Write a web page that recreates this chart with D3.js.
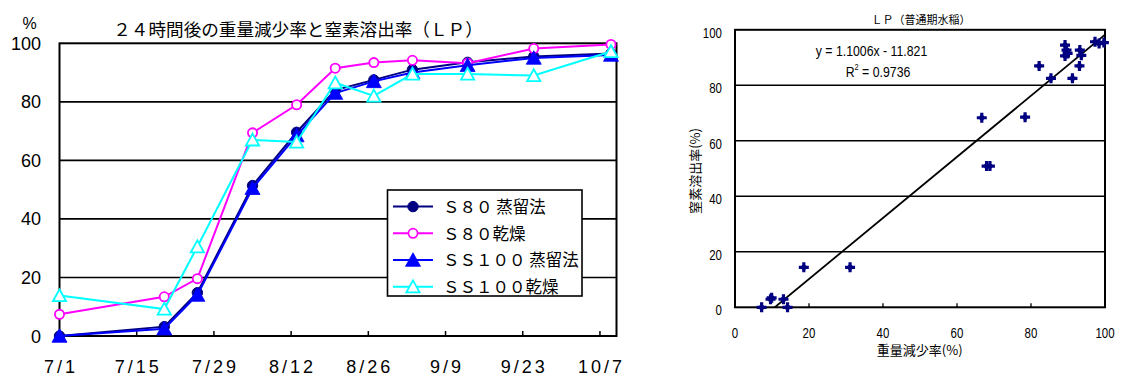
<!DOCTYPE html>
<html><head><meta charset="utf-8">
<script src="https://cdn.jsdelivr.net/npm/d3@7"></script>
<style>body{margin:0;background:#fff} svg{display:block}</style>
</head><body>
<svg id="c" width="1121" height="376"></svg>
<script>
// ---------- data: left chart ----------
const sampleDates = ["2001-07-01","2001-07-20","2001-07-26","2001-08-05","2001-08-13","2001-08-20","2001-08-27","2001-09-03","2001-09-13","2001-09-25","2001-10-09"];
const s80Distill  = [0, 3.2, 14.8, 51.4, 69.6, 84.0, 87.5, 91.0, 93.5, 95.5, 96.5];
const s80Dry      = [7.4, 13.4, 19.6, 69.4, 79.0, 91.5, 93.4, 94.2, 93.2, 98.2, 99.6];
const ss100Distill= [0, 2.5, 14.0, 50.5, 68.5, 83.0, 87.0, 90.0, 92.5, 95.0, 96.0];
const ss100Dry    = [13.8, 9.2, 30.5, 67.0, 66.3, 86.5, 82.0, 89.5, 89.5, 89.0, 97.2];
const seriesNames = ["Ｓ８０ 蒸留法","Ｓ８０乾燥","ＳＳ１００ 蒸留法","ＳＳ１００乾燥"];
const xTickDates  = ["2001-07-01","2001-07-15","2001-07-29","2001-08-12","2001-08-26","2001-09-09","2001-09-23","2001-10-07"];
const xTickLabels = ["7/1","7/15","7/29","8/12","8/26","9/9","9/23","10/7"];
const leftYTicks  = [0,20,40,60,80,100];
const leftTitle   = "２４時間後の重量減少率と窒素溶出率（ＬＰ）";

// ---------- data: right chart ----------
const weightLoss = [7.2, 9.6, 9.9, 13.1, 14.2, 18.6, 31.1, 66.7, 68.0, 68.9, 78.4, 82.2, 85.4, 89.2, 89.6, 89.2, 89.9, 91.2, 93.2, 93.6, 93.1, 97.3, 98.4, 99.7];
const nRelease   = [0, 2.9, 3.4, 2.9, 0, 14.4, 14.4, 68.3, 50.9, 50.9, 68.5, 87.0, 82.5, 94.5, 92.7, 90.6, 91.5, 82.5, 92.7, 90.8, 87.0, 95.7, 95.1, 95.4];
const rightTicks = [0,20,40,60,80,100];
const trendSlope = 1.1006, trendIntercept = -11.821;
const rightTitle = "ＬＰ（普通期水稲）";

const svg = d3.select("#c");
const parse = d3.timeParse("%Y-%m-%d");
const latin = "'Liberation Sans', Arial, sans-serif";
const cjk = "'Noto Sans CJK JP', sans-serif";

// ================= LEFT CHART =================
const L = {x0: 59.5, x1: 616.5, y0: 336, y1: 43.3};
const xL = d3.scaleTime().domain([parse("2001-07-01"), parse("2001-10-10")]).range([L.x0, L.x1]);
const yL = d3.scaleLinear().domain([0,100]).range([L.y0, L.y1]);
const gL = svg.append("g");

// gridlines
gL.selectAll(".gl").data(leftYTicks.filter(d => d>0 && d<100)).join("line")
  .attr("x1", L.x0).attr("x2", L.x1).attr("y1", d=>yL(d)).attr("y2", d=>yL(d))
  .attr("stroke","#000").attr("stroke-width",1.6);
gL.append("rect").attr("x",L.x0).attr("y",L.y1).attr("width",L.x1-L.x0).attr("height",L.y0-L.y1)
  .attr("fill","none").attr("stroke","#000").attr("stroke-width",2);

// x ticks
gL.selectAll(".xt").data(xTickDates).join("line")
  .attr("x1", d=>xL(parse(d))).attr("x2", d=>xL(parse(d)))
  .attr("y1", L.y0).attr("y2", L.y0-5).attr("stroke","#000").attr("stroke-width",1.5);
gL.selectAll(".xl").data(xTickDates).join("text")
  .attr("x", d=>xL(parse(d))+1.5).attr("y", 372.5).attr("text-anchor","middle")
  .attr("font-family", latin).attr("font-size",18).attr("letter-spacing","3px").attr("fill","#000")
  .text((d,i)=>xTickLabels[i]);
// y labels
gL.selectAll(".yl").data(leftYTicks).join("text")
  .attr("x", 41).attr("y", d=>yL(d)+6.5).attr("text-anchor","end")
  .attr("font-family", latin).attr("font-size",18).attr("fill","#000").text(d=>d);
gL.append("text").attr("x",29.5).attr("y",29).attr("text-anchor","middle")
  .attr("font-family",latin).attr("font-size",16).text("%");
gL.append("text").attr("x",298).attr("y",36).attr("text-anchor","middle")
  .attr("font-family",cjk).attr("font-size",17.6).text(leftTitle);

// marker drawers
function marker(g, type, x, y) {
  if (type === "dot") {
    g.append("circle").attr("cx",x).attr("cy",y).attr("r",5.2).attr("fill","#000080").attr("stroke","#000080").attr("stroke-width",1);
  } else if (type === "ring") {
    g.append("circle").attr("cx",x).attr("cy",y).attr("r",4.6).attr("fill","#fff").attr("stroke","#FF00FF").attr("stroke-width",1.8);
  } else if (type === "tri") {
    g.append("path").attr("d",`M${x},${y-7.2}L${x+7.5},${y+6.3}L${x-7.5},${y+6.3}Z`).attr("fill","#0000FF").attr("stroke","#0000FF").attr("stroke-width",0.8);
  } else if (type === "otri") {
    g.append("path").attr("d",`M${x},${y-6.3}L${x+6.6},${y+5.6}L${x-6.6},${y+5.6}Z`).attr("fill","#fff").attr("stroke","#00FFFF").attr("stroke-width",1.8);
  }
}
const series = [
  {name: seriesNames[0], values: s80Distill, color:"#000080", m:"dot"},
  {name: seriesNames[1], values: s80Dry, color:"#FF00FF", m:"ring"},
  {name: seriesNames[2], values: ss100Distill, color:"#0000FF", m:"tri"},
  {name: seriesNames[3], values: ss100Dry, color:"#00FFFF", m:"otri"}
];
const line = d3.line().x(d=>xL(d.date)).y(d=>yL(d.v));
series.forEach(s => {
  const pts = sampleDates.map((d,i)=>({date: parse(d), v: s.values[i]}));
  const g = gL.append("g");
  g.append("path").attr("d", line(pts)).attr("fill","none").attr("stroke",s.color).attr("stroke-width",2);
  pts.forEach(p => marker(g, s.m, xL(p.date), yL(p.v)));
});

// legend
const lg = {x: 387.5, y: 190, w: 194.5, h: 106};
svg.append("clipPath").attr("id","lgclip").append("rect").attr("x",lg.x).attr("y",lg.y).attr("width",lg.w).attr("height",lg.h);
const gLg = svg.append("g");
gLg.append("rect").attr("x",lg.x).attr("y",lg.y).attr("width",lg.w).attr("height",lg.h).attr("fill","#fff");
const gLgIn = gLg.append("g").attr("clip-path","url(#lgclip)");
series.forEach((s,i) => {
  const cy = 206.6 + i*26.7;
  gLgIn.append("line").attr("x1",393).attr("x2",433).attr("y1",cy).attr("y2",cy).attr("stroke",s.color).attr("stroke-width",2);
  marker(gLgIn, s.m, 413, cy);
  gLgIn.append("text").attr("x",443).attr("y",cy+6.3).attr("font-family",cjk).attr("font-size",16.5).attr("fill","#000").text(s.name);
});
gLg.append("rect").attr("x",lg.x).attr("y",lg.y).attr("width",lg.w).attr("height",lg.h).attr("fill","none").attr("stroke","#000").attr("stroke-width",1.6);

// ================= RIGHT CHART =================
const R = {x0: 735, x1: 1105, y0: 307.3, y1: 29.8};
const xR = d3.scaleLinear().domain([0,100]).range([R.x0, R.x1]);
const yR = d3.scaleLinear().domain([0,100]).range([R.y0, R.y1]);
const gR = svg.append("g");
gR.selectAll(".gr").data(rightTicks.filter(d=>d>0&&d<100)).join("line")
  .attr("x1",R.x0).attr("x2",R.x1).attr("y1",d=>yR(d)).attr("y2",d=>yR(d))
  .attr("stroke","#000").attr("stroke-width",1.5);
gR.append("rect").attr("x",R.x0).attr("y",R.y1).attr("width",R.x1-R.x0).attr("height",R.y0-R.y1)
  .attr("fill","none").attr("stroke","#000").attr("stroke-width",2);
gR.selectAll(".xtr").data(rightTicks.filter(d=>d>0&&d<100)).join("line")
  .attr("x1",d=>xR(d)).attr("x2",d=>xR(d)).attr("y1",R.y0).attr("y2",R.y0-4)
  .attr("stroke","#000").attr("stroke-width",1.3);
gR.selectAll(".xlr").data(rightTicks).join("text")
  .attr("transform", d=>`translate(${xR(d)},338) scale(0.82,1)`).attr("text-anchor","middle")
  .attr("font-family",latin).attr("font-size",14).text(d=>d);
gR.selectAll(".ylr").data(rightTicks).join("text")
  .attr("transform", d=>`translate(722,${yR(d)+8}) scale(0.82,1)`).attr("text-anchor","end")
  .attr("font-family",latin).attr("font-size",14).text(d=>d);
gR.append("text").attr("x",921).attr("y",23.5).attr("text-anchor","middle")
  .attr("font-family",cjk).attr("font-size",11).text(rightTitle);
gR.append("text").attr("x",919.7).attr("y",354.5).attr("text-anchor","middle")
  .attr("font-family",cjk).attr("font-size",13).text("重量減少率(%)");
gR.append("text").attr("transform","translate(699.5,171) rotate(-90)").attr("text-anchor","middle")
  .attr("font-family",cjk).attr("font-size",13).text("窒素溶出率(%)");

// trendline
svg.append("clipPath").attr("id","rclip").append("rect").attr("x",R.x0).attr("y",R.y1).attr("width",R.x1-R.x0).attr("height",R.y0-R.y1);
const tx0 = d3.min(weightLoss), tx1 = 100;
gR.append("line").attr("clip-path","url(#rclip)")
  .attr("x1",xR(tx0)).attr("y1",yR(trendSlope*tx0+trendIntercept))
  .attr("x2",xR(tx1)).attr("y2",yR(trendSlope*tx1+trendIntercept))
  .attr("stroke","#000").attr("stroke-width",1.8);

// scatter markers
const markPath = "M-1.6,-5h3.2v3.4h3.4v3.2h-3.4v3.4h-3.2v-3.4h-3.4v-3.2h3.4z M0,-4.6L3.6,0L0,4.6L-3.6,0z";
gR.selectAll(".pt").data(weightLoss).join("path")
  .attr("transform",(d,i)=>`translate(${xR(d)},${yR(nRelease[i])})`)
  .attr("d",markPath).attr("fill","#000080");

// equation
gR.append("text").attr("transform","translate(871.5,56) scale(0.82,1)").attr("text-anchor","middle")
  .attr("font-family",latin).attr("font-size",15).text("y = 1.1006x - 11.821");
const r2 = gR.append("text").attr("transform","translate(878,76.5) scale(0.82,1)").attr("text-anchor","middle")
  .attr("font-family",latin).attr("font-size",15);
r2.append("tspan").text("R");
r2.append("tspan").attr("font-size",9).attr("dy",-7).text("2");
r2.append("tspan").attr("dy",7).text(" = 0.9736");
</script>
</body></html>
